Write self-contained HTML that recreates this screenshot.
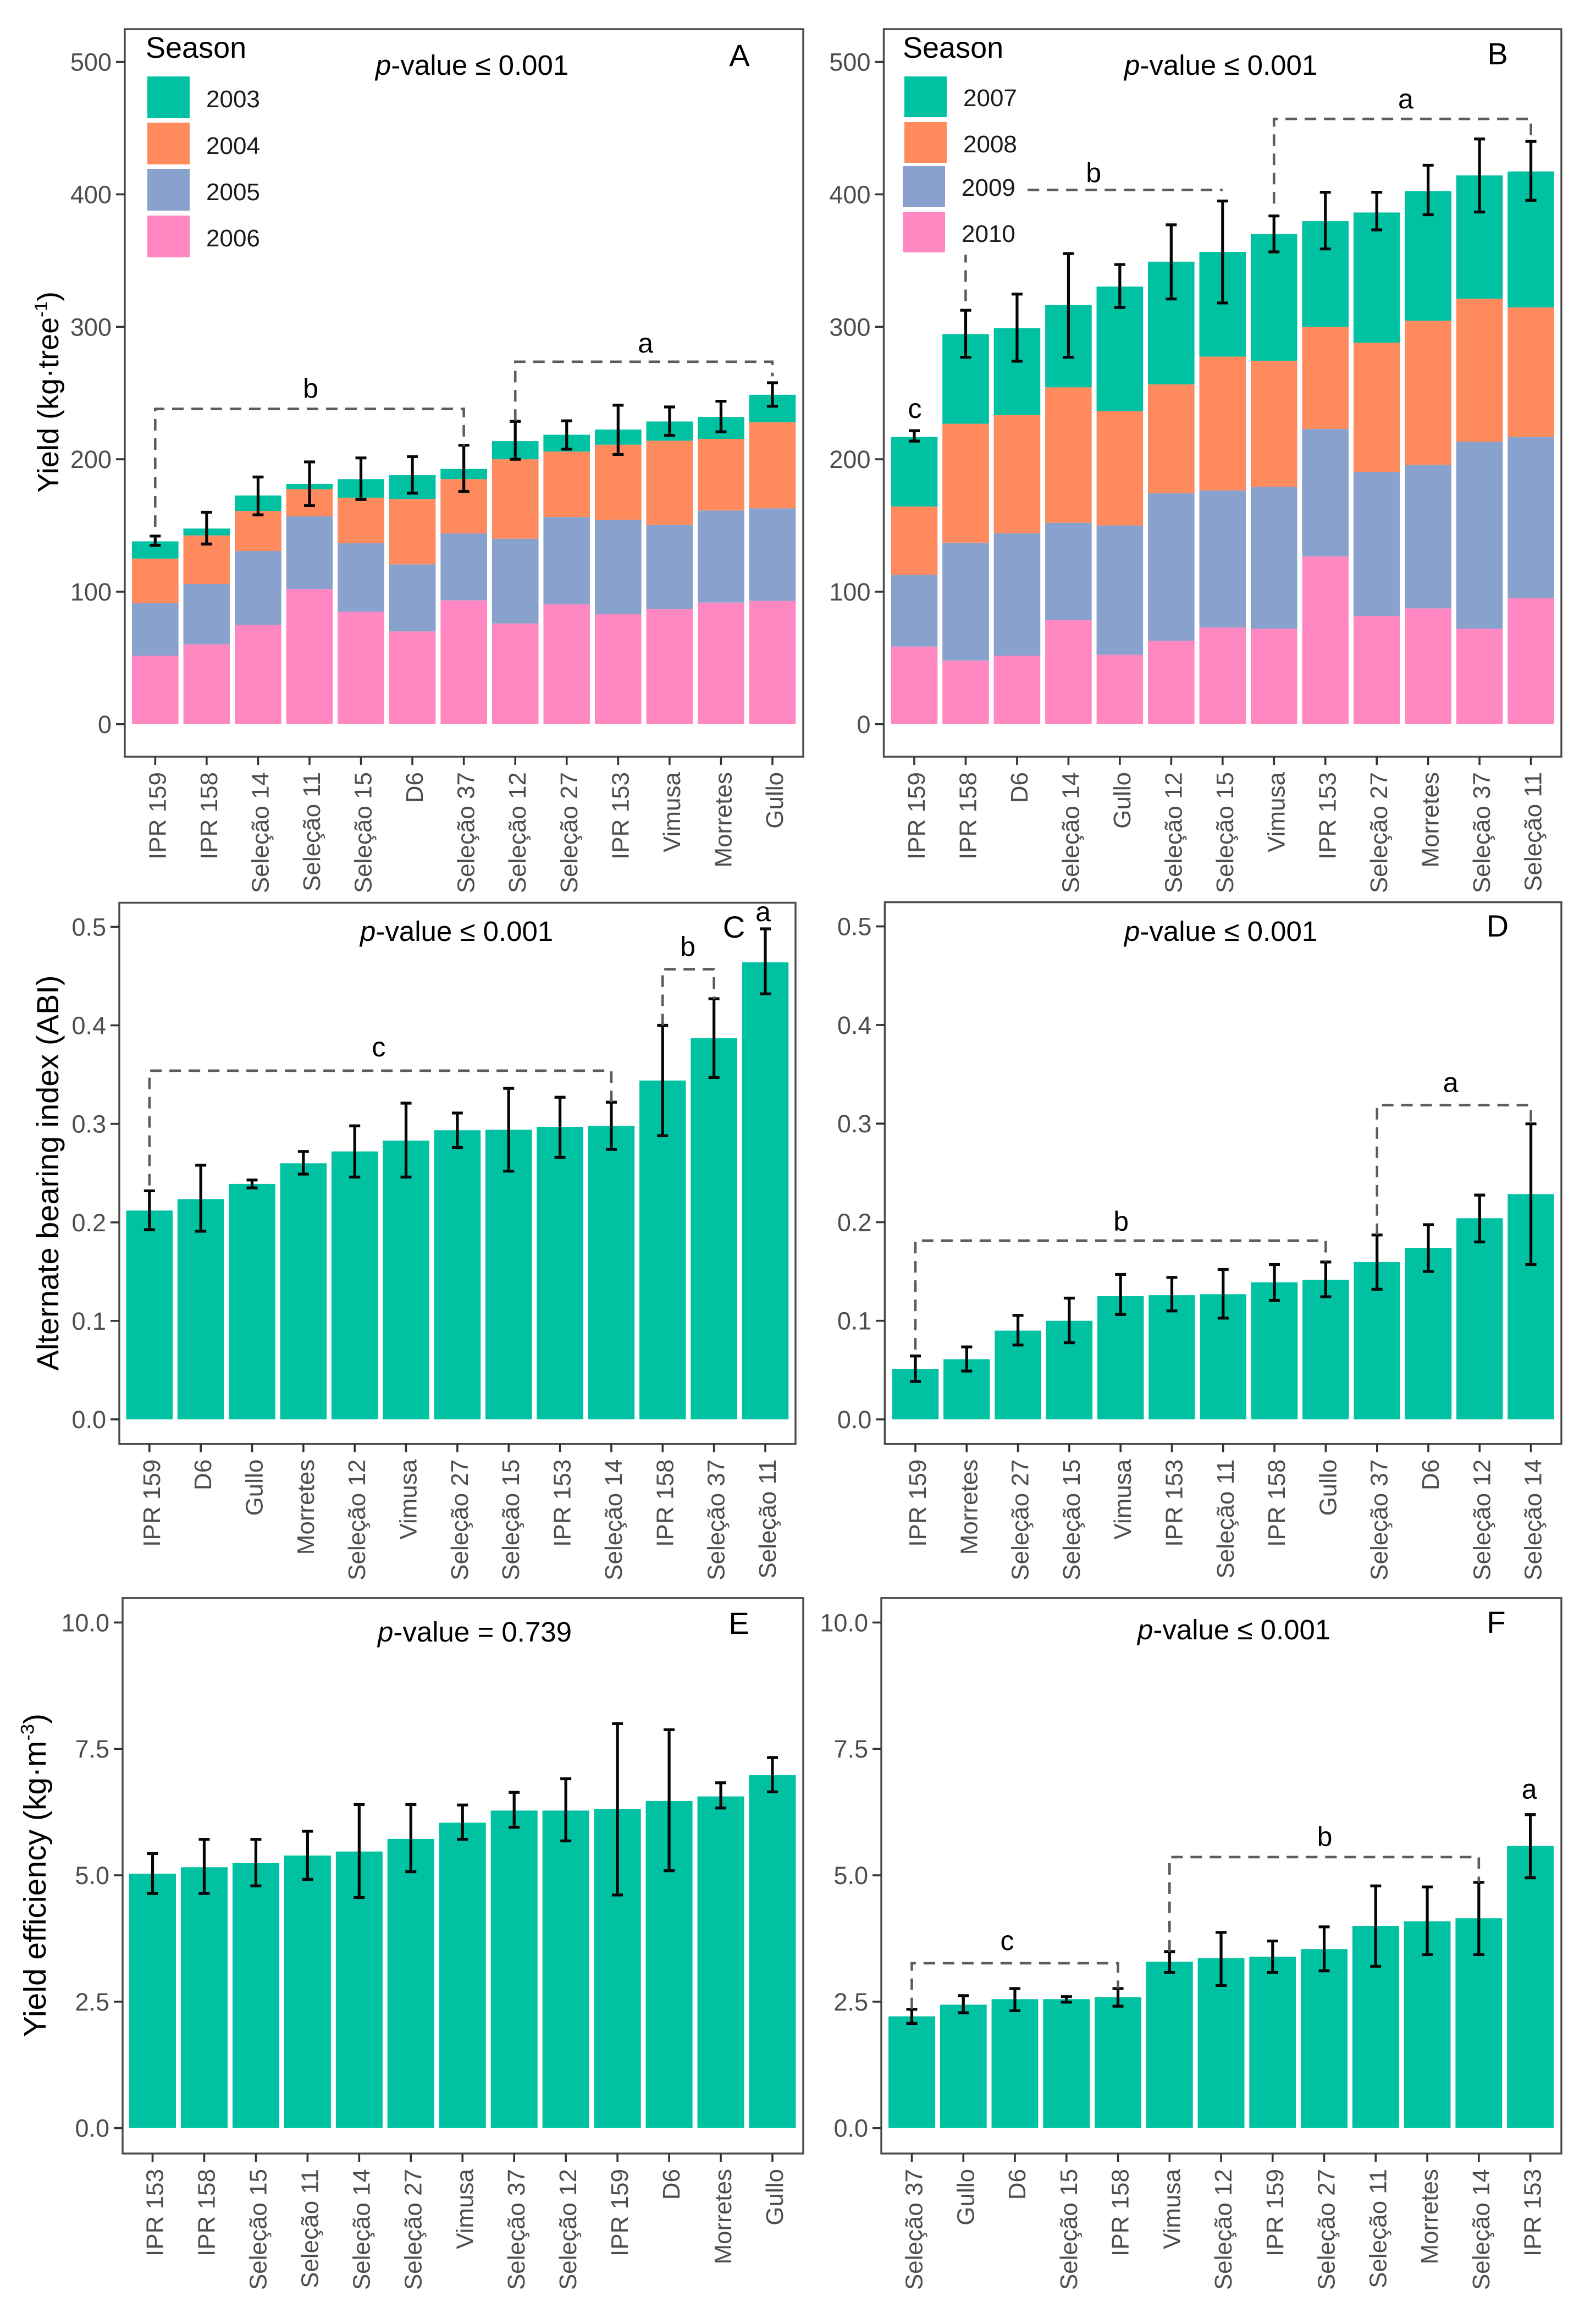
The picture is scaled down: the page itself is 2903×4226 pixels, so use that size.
<!DOCTYPE html>
<html lang="pt">
<head>
<meta charset="utf-8">
<title>Yield, alternate bearing index and yield efficiency by cultivar</title>
<style>
html,body{margin:0;padding:0;background:#fff;}
svg{display:block;}
text{font-family:"Liberation Sans",Arial,sans-serif;}
</style>
</head>
<body>
<svg id="figure" xmlns="http://www.w3.org/2000/svg" width="2903" height="4226" viewBox="0 0 2903 4226"></svg>
<script>
/* ---------- Panel A ---------- */
const panelACategories = ['IPR 159','IPR 158','Seleção 14','Seleção 11','Seleção 15','D6','Seleção 37','Seleção 12','Seleção 27','IPR 153','Vimusa','Morretes','Gullo'];
const panelA2006 = [51.6,60.3,75,102,84.8,70,93.5,76,90.5,83,87,91.8,93];
const panelA2005 = [39.7,45.5,55.7,55,52,50.6,50.5,64,65.9,71.3,63.3,69.5,70];
const panelA2004 = [33.7,36.7,30.3,20.4,34.2,49.4,41,60,49.4,56.7,63.7,54.1,65];
const panelA2003 = [13,5.2,11.6,4,14,18,7.7,13.7,12.7,11.4,14.5,16.6,20.7];
const panelAErrUpper = [142,160,186.6,198,201,202,210.6,228.6,229,240.8,239.5,243.8,257.8];
const panelAErrLower = [135,136,158,165,169.6,174.4,175.7,200,207.6,203.6,218,220.7,240];
const panelATicks = [0,100,200,300,400,500];
const panelATickLabels = ['0','100','200','300','400','500'];
const panelASeasons = ['2003','2004','2005','2006'];
const panelABrackets = [[0,6,238,149,210],[7,12,273.6,229,262.6]];
const panelABracketLabels = ['b','a'];

/* ---------- Panel B ---------- */
const panelBCategories = ['IPR 159','IPR 158','D6','Seleção 14','Gullo','Seleção 12','Seleção 15','Vimusa','IPR 153','Seleção 27','Morretes','Seleção 37','Seleção 11'];
const panelB2010 = [58.6,48,51.6,78.7,52.4,63,73,72,126.7,81.7,87.4,72,95.3];
const panelB2009 = [54.1,89,92.6,73.3,97.6,111.4,103.5,107.2,96.2,108.8,108.4,141.3,121.5];
const panelB2008 = [51.6,89.8,89.2,102.3,86.4,82.1,101,95.2,76.9,97.5,108.8,107.9,97.8];
const panelB2007 = [52.5,67.7,65.6,62.1,94,92.7,79.1,95.6,80,98.3,97.9,93.1,102.7];
const panelBErrUpper = [221.6,312.5,324.7,355.3,347,377,395,383.7,401.6,401.6,422,441.8,440];
const panelBErrLower = [213.7,277,274,277,314.6,321,318,356.6,358.8,373.2,384.6,386.7,395.5];
const panelBTicks = [0,100,200,300,400,500];
const panelBTickLabels = ['0','100','200','300','400','500'];
const panelBSeasons = ['2007','2008','2009','2010'];
const panelBBrackets = [[1,6,403.4,319.4,403.4],[7,12,457,393,441.8]];
const panelBBracketLabels = ['b','a'];

/* ---------- Panel C ---------- */
const panelCCategories = ['IPR 159','D6','Gullo','Morretes','Seleção 12','Vimusa','Seleção 27','Seleção 15','IPR 153','Seleção 14','IPR 158','Seleção 37','Seleção 11'];
const panelCValues = [.212,.2236,.239,.26,.272,.283,.2935,.294,.297,.298,.344,.387,.464];
const panelCErrUpper = [.232,.258,.243,.272,.298,.321,.311,.336,.327,.322,.4,.427,.498];
const panelCErrLower = [.1926,.191,.235,.249,.246,.246,.276,.252,.266,.274,.288,.347,.432];
const panelCTicks = [0,.1,.2,.3,.4,.5];
const panelCTickLabels = ['0.0','0.1','0.2','0.3','0.4','0.5'];
const panelCBrackets = [[0,9,.354,.2375,.322],[10,11,.457,.4,.427]];
const panelCBracketLabels = ['c','b'];

/* ---------- Panel D ---------- */
const panelDCategories = ['IPR 159','Morretes','Seleção 27','Seleção 15','Vimusa','IPR 153','Seleção 11','IPR 158','Gullo','Seleção 37','D6','Seleção 12','Seleção 14'];
const panelDValues = [.0513,.061,.09,.1,.125,.126,.127,.139,.1415,.1596,.174,.204,.2285];
const panelDErrUpper = [.0643,.0735,.1055,.123,.147,.144,.152,.157,.1596,.187,.1975,.2275,.2997];
const panelDErrLower = [.0384,.049,.0754,.0777,.1064,.11,.1027,.1207,.1244,.132,.15,.18,.157];
const panelDTicks = [0,.1,.2,.3,.4,.5];
const panelDTickLabels = ['0.0','0.1','0.2','0.3','0.4','0.5'];
const panelDBrackets = [[0,8,.1813,.0708,.1596],[9,12,.3187,.187,.2997]];
const panelDBracketLabels = ['b','a'];

/* ---------- Panel E ---------- */
const panelECategories = ['IPR 153','IPR 158','Seleção 15','Seleção 11','Seleção 14','Seleção 27','Vimusa','Seleção 37','Seleção 12','IPR 159','D6','Morretes','Gullo'];
const panelEValues = [5.03,5.16,5.24,5.39,5.47,5.72,6.04,6.28,6.28,6.31,6.47,6.56,6.98];
const panelEErrUpper = [5.43,5.71,5.71,5.87,6.4,6.4,6.39,6.64,6.91,8,7.88,6.83,7.33];
const panelEErrLower = [4.64,4.64,4.79,4.92,4.56,5.07,5.71,5.95,5.68,4.61,5.09,6.33,6.65];
const panelETicks = [0,2.5,5,7.5,10];
const panelETickLabels = ['0.0','2.5','5.0','7.5','10.0'];
const panelEBrackets = [];
const panelEBracketLabels = [];

/* ---------- Panel F ---------- */
const panelFCategories = ['Seleção 37','Gullo','D6','Seleção 15','IPR 158','Vimusa','Seleção 12','IPR 159','Seleção 27','Seleção 11','Morretes','Seleção 14','IPR 153'];
const panelFValues = [2.21,2.44,2.55,2.55,2.59,3.29,3.36,3.39,3.54,4,4.09,4.15,5.58];
const panelFErrUpper = [2.35,2.62,2.76,2.6,2.76,3.49,3.87,3.7,3.98,4.79,4.77,4.86,6.2];
const panelFErrLower = [2.07,2.28,2.32,2.49,2.41,3.08,2.82,3.08,3.11,3.2,3.43,3.43,4.95];
const panelFTicks = [0,2.5,5,7.5,10];
const panelFTickLabels = ['0.0','2.5','5.0','7.5','10.0'];
const panelFBrackets = [[0,4,3.26,2.35,2.76],[5,11,5.36,3.49,4.86]];
const panelFBracketLabels = ['c','b'];

/* ---------- Styling and layout ---------- */
const COLORS = ['#00C2A3','#FF8A5E','#88A1CD','#FF88C2'];
const SVGNS = 'http://www.w3.org/2000/svg';
const root = document.getElementById('figure');

function mk(tag, attrs, parent, txt) {
  const node = document.createElementNS(SVGNS, tag);
  for (const k in attrs) node.setAttribute(k, attrs[k]);
  if (txt !== undefined) node.textContent = txt;
  parent.appendChild(node);
  return node;
}

function drawPanel(cfg) {
  const g = mk('g', {}, root);
  
  

  const xScale = i => cfg.x0 + (cfg.x1 - cfg.x0) * i / (cfg.categories.length - 1);
  const yScale = v => cfg.yZero + (cfg.yMaxPx - cfg.yZero) * v / cfg.yMax;
  const step = (cfg.x1 - cfg.x0) / (cfg.categories.length - 1);
  const barW = step * 0.905;

  /* stacked or single bars */
  cfg.categories.forEach((cat, i) => {
    let base = 0;
    cfg.series.forEach((values, s) => {
      const top = base + values[i];
      const el = mk('rect', {
        x: xScale(i) - barW / 2,
        y: yScale(top),
        width: barW,
        height: yScale(base) - yScale(top),
        fill: cfg.seriesColors[s]
      }, g);
      
      
      base = top;
    });
  });

  /* error bars */
  cfg.categories.forEach((cat, i) => {
    const x = xScale(i), yU = yScale(cfg.errUpper[i]), yL = yScale(cfg.errLower[i]), cap = 10;
    const el = mk('path', {
      d: `M${x - cap} ${yU}H${x + cap}M${x} ${yU}V${yL}M${x - cap} ${yL}H${x + cap}`,
      fill: 'none', stroke: '#050505', 'stroke-width': 5.2
    }, g);
    
    
  });

  /* significance brackets */
  cfg.brackets.forEach((b, n) => {
    const [from, to, top, leftEnd, rightEnd] = b;
    const xa = xScale(from), xb = xScale(to);
    const el = mk('path', {
      d: `M${xa} ${yScale(leftEnd)}V${yScale(top)}H${xb}V${yScale(rightEnd)}`,
      fill: 'none', stroke: '#5c5c5c', 'stroke-width': 4.6, 'stroke-dasharray': '21 14'
    }, g);
    
    
    const letter = cfg.bracketLabels[n];
    const off = cfg.bracketLabelOffsets[n];
    const t = mk('text', {
      x: (xa + xb) / 2 + off[0],
      y: yScale(top) + off[1],
      'text-anchor': 'middle', 'font-size': 50, fill: '#000'
    }, g, letter);
    
    
  });

  /* extra letters sitting directly above one error bar */
  (cfg.barLetters || []).forEach(item => {
    const t = mk('text', {
      x: xScale(item.index) + item.dx,
      y: yScale(cfg.errUpper[item.index]) + item.dy,
      'text-anchor': 'middle', 'font-size': 50, fill: '#000'
    }, g, item.text);
    
    
  });

  /* frame */
  const frame = mk('rect', {
    x: cfg.left, y: cfg.top, width: cfg.right - cfg.left, height: cfg.bottom - cfg.top,
    fill: 'none', stroke: '#4a4a4a', 'stroke-width': 3.4
  }, g);
  
  

  /* y axis */
  cfg.ticks.forEach((v, i) => {
    const y = yScale(v);
    const tick = mk('line', {x1: cfg.left - 16, x2: cfg.left, y1: y, y2: y, stroke: '#333', 'stroke-width': 3.6}, g);
    
    
    const label = mk('text', {
      x: cfg.left - 24, y: y + 16, 'text-anchor': 'end', 'font-size': 45, fill: '#4d4d4d'
    }, g, cfg.tickLabels[i]);
    
    
  });

  /* x axis */
  cfg.categories.forEach((cat, i) => {
    const x = xScale(i);
    const tick = mk('line', {x1: x, x2: x, y1: cfg.bottom, y2: cfg.bottom + 15, stroke: '#333', 'stroke-width': 3.6}, g);
    
    
    const px = x + 19, py = cfg.bottom + 28;
    const label = mk('text', {
      x: px, y: py, 'text-anchor': 'end', 'font-size': 44, fill: '#4d4d4d',
      transform: `rotate(-90 ${px} ${py})`
    }, g, cat);
    
    
  });

  /* y axis title */
  if (cfg.title) {
    const px = cfg.title.x, py = cfg.title.y;
    const t = mk('text', {
      x: px, y: py, 'text-anchor': 'middle', 'font-size': cfg.title.size, fill: '#000',
      transform: `rotate(-90 ${px} ${py})`
    }, g);
    
    
    const sz = cfg.title.size;
    mk('tspan', {}, t, cfg.title.before);
    if (cfg.title.sup) {
      mk('tspan', {dy: -sz * 0.38, 'font-size': sz * 0.6}, t, cfg.title.sup);
      mk('tspan', {dy: sz * 0.38}, t, ')');
    }
  }

  /* p value */
  const pv = mk('text', {x: cfg.pValue.x, y: cfg.pValue.y, 'font-size': 51, fill: '#000'}, g);
  
  
  mk('tspan', {'font-style': 'italic'}, pv, 'p');
  mk('tspan', {}, pv, cfg.pValue.text);

  /* panel letter */
  const pl = mk('text', {
    x: cfg.letterPos[0], y: cfg.letterPos[1], 'text-anchor': 'middle', 'font-size': 56, fill: '#000'
  }, g, cfg.letter);
  
  

  /* legend */
  if (cfg.legend) {
    const lg = mk('g', {}, g);
    
    
    const L = cfg.legend;
    mk('rect', {x: L.bg[0], y: L.bg[1], width: L.bg[2], height: L.bg[3], fill: '#fff'}, lg);
    const title = mk('text', {x: L.titleX, y: 105, 'font-size': 54, fill: '#000'}, lg, 'Season');
    
    
    cfg.seasons.forEach((name, i) => {
      const key = mk('rect', {
        x: L.keyX[i], y: L.keyY[i], width: L.keyW, height: L.keyH,
        fill: COLORS[i]
      }, lg);
      
      
      const lab = mk('text', {
        x: L.textX[i], y: L.textY[i], 'font-size': 44, fill: '#1a1a1a'
      }, lg, name);
      
      
    });
  }
}

drawPanel({
  letter: 'A', categories: panelACategories,
  series: [panelA2006, panelA2005, panelA2004, panelA2003],
  seriesColors: [COLORS[3], COLORS[2], COLORS[1], COLORS[0]],
  errUpper: panelAErrUpper, errLower: panelAErrLower,
  ticks: panelATicks, tickLabels: panelATickLabels, seasons: panelASeasons,
  brackets: panelABrackets, bracketLabels: panelABracketLabels,
  bracketLabelOffsets: [[2,-20],[3,-17]],
  left: 227, right: 1461, top: 53, bottom: 1376,
  x0: 282.3, x1: 1405, yZero: 1316.8, yMaxPx: 112.6, yMax: 500,
  title: {x: 106, y: 713, size: 54, before: 'Yield (kg·tree', sup: '-1'},
  pValue: {x: 683, y: 136, text: '-value ≤ 0.001'},
  letterPos: [1345, 120],
  legend: {bg: [240,60,220,420], titleX: 265, keyX: [268,268,268,268], keyY: [139,223,307,392], keyW: 77, keyH: 76,
           textX: [375,375,375,375], textY: [195,280,364,448]}
});

drawPanel({
  letter: 'B', categories: panelBCategories,
  series: [panelB2010, panelB2009, panelB2008, panelB2007],
  seriesColors: [COLORS[3], COLORS[2], COLORS[1], COLORS[0]],
  errUpper: panelBErrUpper, errLower: panelBErrLower,
  ticks: panelBTicks, tickLabels: panelBTickLabels, seasons: panelBSeasons,
  brackets: panelBBrackets, bracketLabels: panelBBracketLabels,
  bracketLabelOffsets: [[-1,-14],[6,-19]],
  barLetters: [{index: 0, text: 'c', dx: 1, dy: -23}],
  left: 1607.5, right: 2840, top: 53, bottom: 1376,
  x0: 1663, x1: 2784.6, yZero: 1316.8, yMaxPx: 112.6, yMax: 500,
  pValue: {x: 2045, y: 136, text: '-value ≤ 0.001'},
  letterPos: [2724, 117],
  legend: {bg: [1612,57,250,406], titleX: 1642, keyX: [1645,1645,1642,1642], keyY: [139,222,302,385], keyW: 77, keyH: 74,
           textX: [1752,1752,1749,1749], textY: [193,277,356,440]}
});

drawPanel({
  letter: 'C', categories: panelCCategories,
  series: [panelCValues], seriesColors: [COLORS[0]],
  errUpper: panelCErrUpper, errLower: panelCErrLower,
  ticks: panelCTicks, tickLabels: panelCTickLabels,
  brackets: panelCBrackets, bracketLabels: panelCBracketLabels,
  bracketLabelOffsets: [[-3,-26],[-1,-24]],
  barLetters: [{index: 12, text: 'a', dx: -4, dy: -14}],
  left: 217, right: 1447, top: 1641.5, bottom: 2625.7,
  x0: 271.8, x1: 1392, yZero: 2581, yMaxPx: 1685.4, yMax: 0.5,
  title: {x: 106, y: 2133, size: 56, before: 'Alternate bearing index (ABI)'},
  pValue: {x: 655, y: 1711, text: '-value ≤ 0.001'},
  letterPos: [1335, 1705]
});

drawPanel({
  letter: 'D', categories: panelDCategories,
  series: [panelDValues], seriesColors: [COLORS[0]],
  errUpper: panelDErrUpper, errLower: panelDErrLower,
  ticks: panelDTicks, tickLabels: panelDTickLabels,
  brackets: panelDBrackets, bracketLabels: panelDBracketLabels,
  bracketLabelOffsets: [[1,-18],[-6,-24]],
  left: 1609.4, right: 2840, top: 1640.6, bottom: 2625.7,
  x0: 1665, x1: 2784.6, yZero: 2581, yMaxPx: 1684.6, yMax: 0.5,
  pValue: {x: 2045, y: 1711, text: '-value ≤ 0.001'},
  letterPos: [2724, 1703]
});

drawPanel({
  letter: 'E', categories: panelECategories,
  series: [panelEValues], seriesColors: [COLORS[0]],
  errUpper: panelEErrUpper, errLower: panelEErrLower,
  ticks: panelETicks, tickLabels: panelETickLabels,
  brackets: panelEBrackets, bracketLabels: panelEBracketLabels,
  bracketLabelOffsets: [],
  left: 223, right: 1461, top: 2905.8, bottom: 3916,
  x0: 277.5, x1: 1405, yZero: 3869.7, yMaxPx: 2950.4, yMax: 10,
  title: {x: 83, y: 3410, size: 57, before: 'Yield efficiency (kg·m', sup: '-3'},
  pValue: {x: 687, y: 2985, text: '-value = 0.739'},
  letterPos: [1344, 2971]
});

drawPanel({
  letter: 'F', categories: panelFCategories,
  series: [panelFValues], seriesColors: [COLORS[0]],
  errUpper: panelFErrUpper, errLower: panelFErrLower,
  ticks: panelFTicks, tickLabels: panelFTickLabels,
  brackets: panelFBrackets, bracketLabels: panelFBracketLabels,
  bracketLabelOffsets: [[-14,-24],[1,-20]],
  barLetters: [{index: 12, text: 'a', dx: -2, dy: -29}],
  left: 1603, right: 2840, top: 2905.8, bottom: 3916,
  x0: 1658.5, x1: 2783.6, yZero: 3869.7, yMaxPx: 2950.4, yMax: 10,
  pValue: {x: 2069, y: 2981, text: '-value ≤ 0.001'},
  letterPos: [2721.5, 2969]
});
</script>
</body>
</html>
